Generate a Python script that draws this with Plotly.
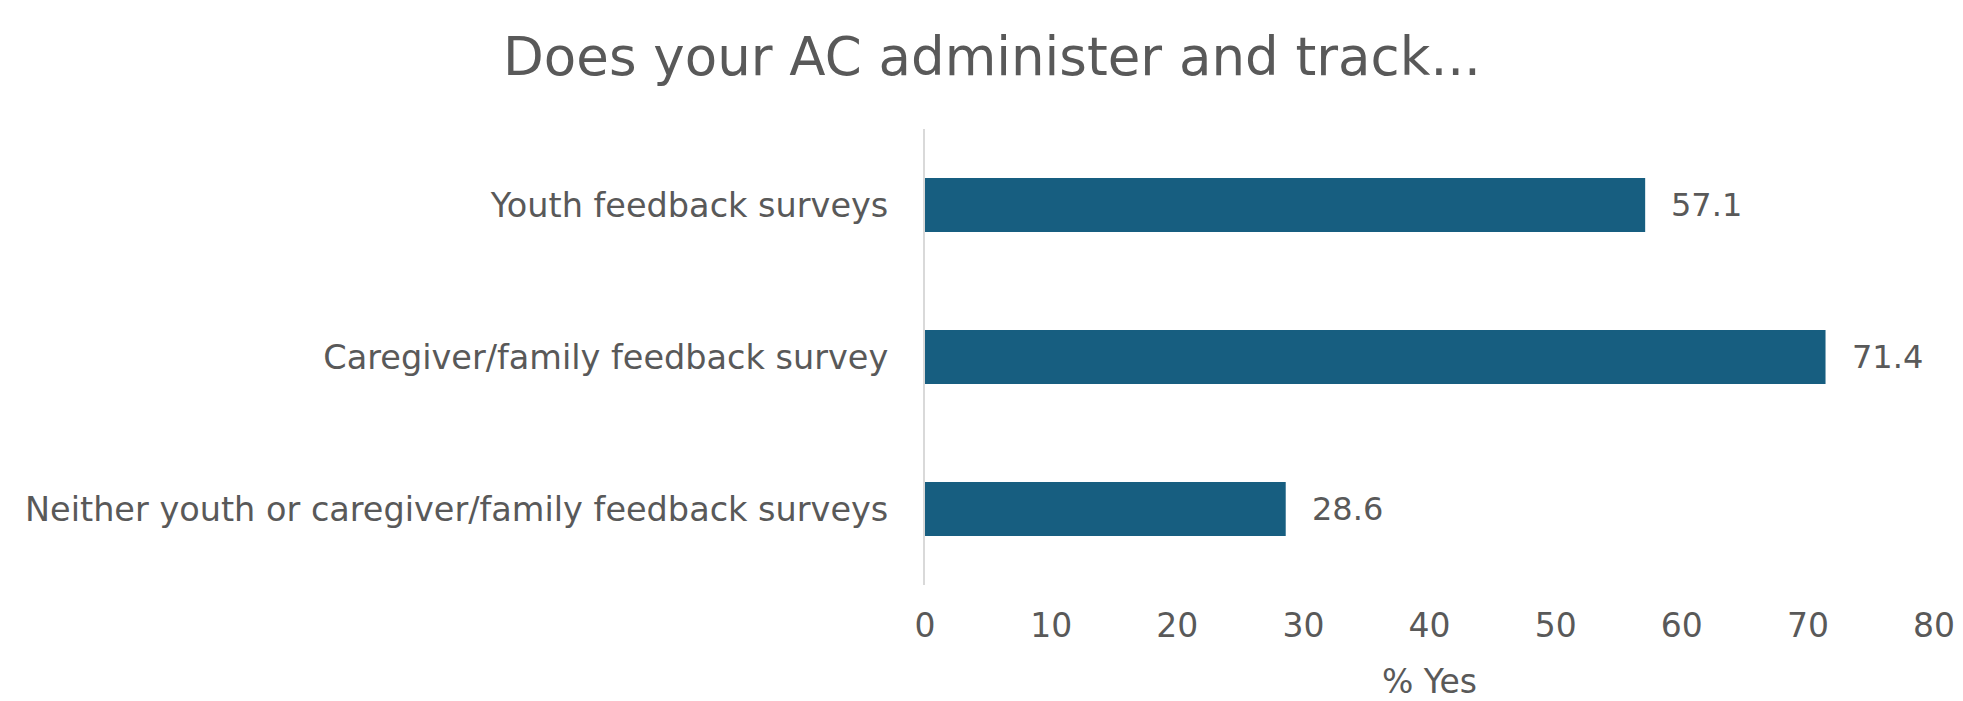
import plotly.graph_objects as go

categories = [
    "Youth feedback surveys",
    "Caregiver/family feedback survey",
    "Neither youth or caregiver/family feedback surveys",
]
values = [57.1, 71.4, 28.6]
x_ticks = [0, 10, 20, 30, 40, 50, 60, 70, 80]

TEXT = "#595959"
BAR = "#175E80"
FONT = "DejaVu Sans"

fig = go.Figure(
    go.Bar(
        x=values,
        y=categories,
        orientation="h",
        marker=dict(color=BAR, line=dict(width=0)),
        hoverinfo="skip",
    )
)

for c, v in zip(categories, values):
    fig.add_annotation(
        x=v, y=c, xref="x", yref="y",
        text=f"{v:.1f}", showarrow=False,
        xanchor="left", yanchor="middle", xshift=24,
        font=dict(family=FONT, size=32, color=TEXT),
    )

fig.update_layout(
    width=1963,
    height=701,
    margin=dict(l=925, r=29, t=129, b=116, autoexpand=False),
    paper_bgcolor="white",
    plot_bgcolor="white",
    bargap=0.645,
    showlegend=False,
    font=dict(family=FONT, color=TEXT),
    title=dict(
        text="Does your AC administer and track...",
        x=992 / 1963, xref="container", xanchor="center",
        y=1 - 56 / 701, yref="container", yanchor="middle",
        font=dict(family=FONT, size=53, color=TEXT),
    ),
    xaxis=dict(
        range=[0, 80],
        tickvals=x_ticks,
        ticktext=[str(t) for t in x_ticks],
        showgrid=False,
        zeroline=False,
        showline=False,
        ticks="",
        automargin=False,
        ticklabelstandoff=18,
        tickfont=dict(family=FONT, size=33, color=TEXT),
        title=dict(text="% Yes", standoff=28,
                   font=dict(family=FONT, size=33, color=TEXT)),
    ),
    yaxis=dict(
        categoryorder="array",
        categoryarray=categories,
        autorange="reversed",
        showgrid=False,
        zeroline=False,
        showline=True,
        automargin=False,
        linecolor="#D9D9D9",
        linewidth=2,
        ticks="",
        ticklabelstandoff=28,
        tickfont=dict(family=FONT, size=33.5, color=TEXT),
    ),
)

fig.write_html("out.html")
